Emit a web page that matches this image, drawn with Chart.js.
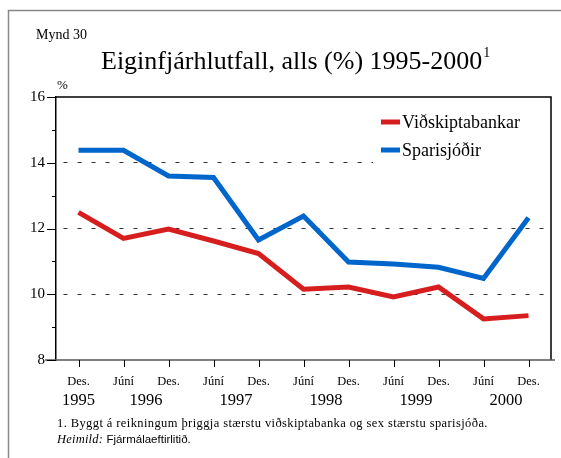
<!DOCTYPE html>
<html>
<head>
<meta charset="utf-8">
<script src="https://cdn.jsdelivr.net/npm/chart.js@4.4.0/dist/chart.umd.min.js"></script>
<style>
body { margin: 0; background: #fff; font-family: "Liberation Serif", "Times New Roman", serif; }
#wrap { position: relative; width: 561px; height: 458px; overflow: hidden; }
canvas { position: absolute; left: 0; top: 0; }
.t { position: absolute; white-space: nowrap; color: #000; line-height: 1; }
</style>
</head>
<body>
<div id="wrap">
  <canvas id="c" width="561" height="458"></canvas>
  <div class="t" style="left:36px;top:28px;font-size:14px">Mynd 30</div>
  <div class="t" style="left:101px;top:48px;font-size:26px">Eiginfjárhlutfall, alls (%) 1995-2000<span style="font-size:14px;position:relative;top:-12px;margin-left:1px">1</span></div>
  <div class="t" style="left:57px;top:78px;font-size:13px">%</div>
  <div class="t" style="left:57px;top:417px;font-size:12.5px;letter-spacing:0.4px">1. Byggt á reikningum þriggja stærstu viðskiptabanka og sex stærstu sparisjóða.</div>
  <div class="t" style="left:57px;top:433px;font-size:12.5px;letter-spacing:0.2px"><i>Heimild:</i> <span style="font-family:'Liberation Sans',Arial,sans-serif;font-size:11.5px;letter-spacing:0">Fjármálaeftirlitið.</span></div>
</div>
<script>
// Data
const months = ['Des.', 'Júní', 'Des.', 'Júní', 'Des.', 'Júní', 'Des.', 'Júní', 'Des.', 'Júní', 'Des.'];
const years = ['1995', '1996', '1997', '1998', '1999', '2000'];
// which category indices each year label sits under
const yearSpans = [[0, 0], [1, 2], [3, 4], [5, 6], [7, 8], [9, 10]];
const banks = [12.49, 11.70, 11.98, 11.62, 11.24, 10.15, 10.22, 9.92, 10.22, 9.25, 9.35];
const savings = [14.38, 14.38, 13.60, 13.55, 11.65, 12.38, 10.98, 10.92, 10.82, 10.48, 12.33];

const RED = 'rgb(215,30,30)';
const BLUE = 'rgb(0,102,204)';
const SERIF = '"Liberation Serif", "Times New Roman", serif';

/**
 * Frame, plot box, tick marks, year row and the legend.
 */
const decor = {
    id: 'decor',
    beforeDraw(chart) {
        const ctx = chart.ctx;
        ctx.save();
        ctx.strokeStyle = '#888';
        ctx.lineWidth = 1.5;
        ctx.beginPath();
        ctx.moveTo(8.5, 458);
        ctx.lineTo(8.5, 10.5);
        ctx.lineTo(561, 10.5);
        ctx.stroke();
        ctx.restore();
    },
    afterDraw(chart) {
        const {ctx, chartArea: a, scales: {x, y}} = chart;
        ctx.save();
        ctx.lineWidth = 1.5;
        ctx.strokeStyle = '#000';
        ctx.beginPath();
        ctx.moveTo(a.left, a.top);
        ctx.lineTo(a.right, a.top);
        ctx.lineTo(a.right, a.bottom);
        ctx.stroke();

        // bottom axis line
        ctx.strokeStyle = '#555';
        ctx.beginPath();
        ctx.moveTo(45, a.bottom);
        ctx.lineTo(a.right + 4, a.bottom);
        ctx.stroke();

        // y ticks, long on labelled values, short in between
        ctx.strokeStyle = '#000';
        ctx.lineWidth = 1;
        for (let v = 8; v <= 16; v++) {
            const py = Math.round(y.getPixelForValue(v)) + 0.5;
            const len = v % 2 ? 4 : 9;
            ctx.beginPath();
            ctx.moveTo(a.left - len, py);
            ctx.lineTo(a.left, py);
            ctx.stroke();
        }
        // x ticks
        months.forEach((m, i) => {
            const px = Math.round(x.getPixelForValue(i)) + 0.5;
            ctx.beginPath();
            ctx.moveTo(px, a.bottom);
            ctx.lineTo(px, a.bottom + 7);
            ctx.stroke();
        });

        // year row
        ctx.fillStyle = '#000';
        ctx.font = '16.5px ' + SERIF;
        ctx.textAlign = 'center';
        ctx.textBaseline = 'middle';
        years.forEach((yr, i) => {
            const [s, e] = yearSpans[i];
            const px = (x.getPixelForValue(s) + x.getPixelForValue(e)) / 2;
            ctx.fillText(yr, px, 401);
        });

        // legend, white box over the grid
        ctx.fillStyle = '#fff';
        ctx.fillRect(373, 104, 173, 62);
        ctx.font = '18px ' + SERIF;
        ctx.textAlign = 'left';
        chart.data.datasets.forEach((ds, i) => {
            const ly = 122 + i * 28;
            ctx.strokeStyle = ds.borderColor;
            ctx.lineWidth = 5;
            ctx.beginPath();
            ctx.moveTo(381, ly);
            ctx.lineTo(400, ly);
            ctx.stroke();
            ctx.fillStyle = '#000';
            ctx.fillText(ds.label, 402, ly + 1);
        });
        ctx.restore();
    }
};

new Chart(document.getElementById('c'), {
    type: 'line',
    data: {
        labels: months,
        datasets: [
            {label: 'Viðskiptabankar', data: banks, borderColor: RED, backgroundColor: RED},
            {label: 'Sparisjóðir', data: savings, borderColor: BLUE, backgroundColor: BLUE}
        ]
    },
    options: {
        responsive: false,
        animation: false,
        layout: {padding: {top: 97, right: 10, left: 0, bottom: 0}},
        elements: {
            line: {borderWidth: 5, tension: 0, borderJoinStyle: 'miter'},
            point: {radius: 0, hoverRadius: 0}
        },
        plugins: {legend: {display: false}, tooltip: {enabled: false}},
        scales: {
            x: {
                offset: true,
                afterFit(scale) { scale.height = 98; },
                grid: {display: false, drawTicks: false},
                border: {display: false},
                ticks: {
                    color: '#000',
                    padding: 14,
                    maxRotation: 0,
                    autoSkip: false,
                    font: {family: SERIF, size: 12.5}
                }
            },
            y: {
                min: 8,
                max: 16,
                afterFit(scale) { scale.width = 56; },
                grid: {
                    drawTicks: false,
                    lineWidth: 1,
                    color: (c) => {
                        const v = c.tick && c.tick.value;
                        return (v === 10 || v === 12 || v === 14) ? '#333' : 'transparent';
                    }
                },
                border: {color: '#000', width: 1.5, dash: [4, 10], dashOffset: 7},
                ticks: {
                    stepSize: 1,
                    padding: 11,
                    color: '#000',
                    font: {family: SERIF, size: 15},
                    callback: (v) => (v % 2 === 0 ? v : '')
                }
            }
        }
    },
    plugins: [decor]
});
</script>
</body>
</html>
